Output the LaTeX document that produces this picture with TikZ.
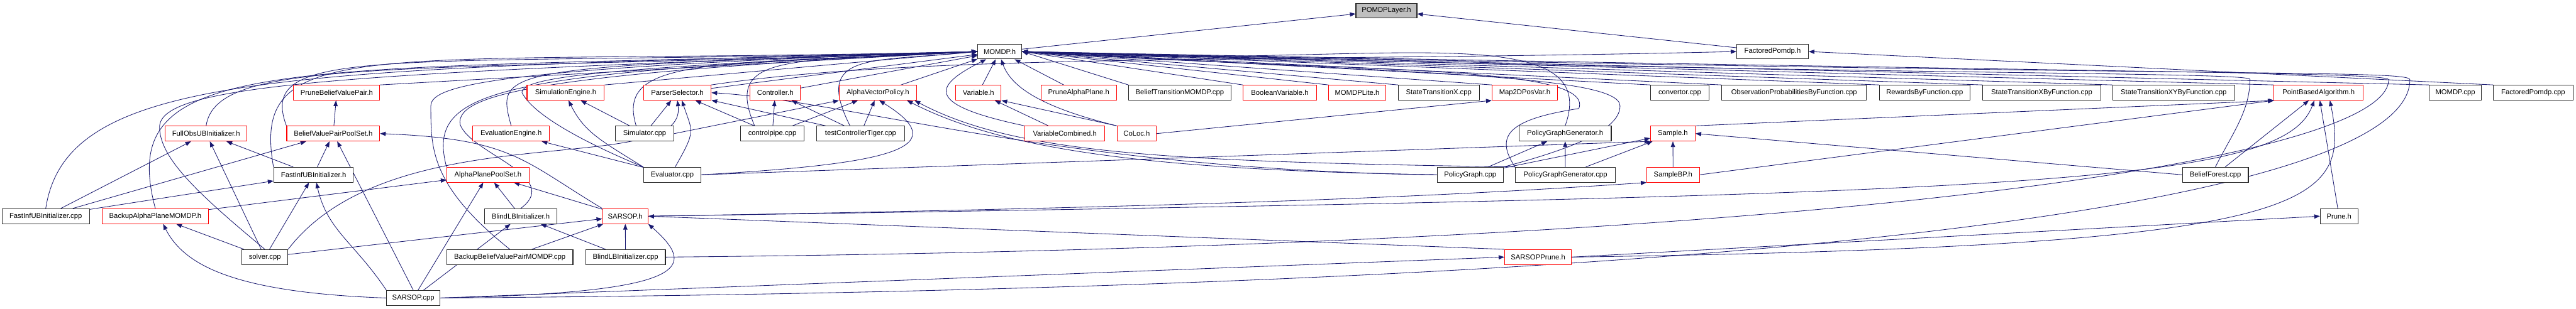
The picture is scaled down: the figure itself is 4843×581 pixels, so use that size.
\documentclass[tikz,border=0pt]{standalone}
\usepackage{fontspec}
\setmainfont{Liberation Sans}
\usetikzlibrary{arrows.meta,backgrounds}
\definecolor{edgeblue}{HTML}{191970}
\definecolor{rootgray}{HTML}{BFBFBF}
\begin{document}
\begin{tikzpicture}[
  x=0.75pt, y=-0.75pt,
  file/.style={draw=black!85, line width=1pt, fill=white, minimum height=21pt,
    inner sep=0pt, font=\fontsize{10}{12}\selectfont},
  redfile/.style={file, draw=red},
  rootfile/.style={file, fill=rootgray},
  dep/.style={draw=edgeblue, line width=0.75pt, -{Triangle[length=8pt,width=6pt]}}
]
\useasboundingbox (0,0) rectangle (4843,581);

\node[rootfile, minimum width=86pt] (pomdpl) at (2606.5,20) {POMDPLayer.h};

\node[file, minimum width=62pt] (momdph) at (1879.5,97) {MOMDP.h};
\node[file, minimum width=101pt] (factph) at (3332.5,97) {FactoredPomdp.h};

\node[redfile, minimum width=121.5pt] (pbvp) at (633,174.5) {PruneBeliefValuePair.h};
\node[redfile, minimum width=109pt] (simeng) at (1063.5,174.5) {SimulationEngine.h};
\node[redfile, minimum width=95pt] (parsel) at (1273.5,174.5) {ParserSelector.h};
\node[redfile, minimum width=71pt] (ctrl) at (1457.5,174.5) {Controller.h};
\node[redfile, minimum width=109pt] (avp) at (1650.5,174.5) {AlphaVectorPolicy.h};
\node[redfile, minimum width=64pt] (var) at (1839.5,174.5) {Variable.h};
\node[redfile, minimum width=106.5pt] (pap) at (2028,174.5) {PruneAlphaPlane.h};
\node[file, minimum width=144pt] (btm) at (2218,174.5) {BeliefTransitionMOMDP.cpp};
\node[redfile, minimum width=103.5pt] (boolvar) at (2406,174.5) {BooleanVariable.h};
\node[redfile, minimum width=80pt] (lite) at (2551.5,174.5) {MOMDPLite.h};
\node[file, minimum width=114pt] (stx) at (2705,174.5) {StateTransitionX.cpp};
\node[redfile, minimum width=92pt] (map2d) at (2866.5,174.5) {Map2DPosVar.h};
\node[file, minimum width=82.5pt] (conv) at (3158,174.5) {convertor.cpp};
\node[file, minimum width=204pt] (opbf) at (3373,174.5) {ObservationProbabilitiesByFunction.cpp};
\node[file, minimum width=128pt] (rbf) at (3618.5,174.5) {RewardsByFunction.cpp};
\node[file, minimum width=166pt] (stxbf) at (3838.5,174.5) {StateTransitionXByFunction.cpp};
\node[file, minimum width=172pt] (stxybf) at (4086.5,174.5) {StateTransitionXYByFunction.cpp};
\node[redfile, minimum width=126pt] (pba) at (4359,174.5) {PointBasedAlgorithm.h};
\node[file, minimum width=73.5pt] (momdpcpp) at (4616,174.5) {MOMDP.cpp};
\node[file, minimum width=112pt] (factcpp) at (4762.5,174.5) {FactoredPomdp.cpp};

\node[redfile, minimum width=115pt] (fullobs) at (387.5,251.5) {FullObsUBInitializer.h};
\node[redfile, minimum width=131pt] (bvpps) at (626.5,251.5) {BeliefValuePairPoolSet.h};
\node[redfile, minimum width=108pt] (evaleng) at (961,251.5) {EvaluationEngine.h};
\node[file, minimum width=82.5pt] (simcpp) at (1212,251.5) {Simulator.cpp};
\node[file, minimum width=90pt] (cpipe) at (1452,251.5) {controlpipe.cpp};
\node[file, minimum width=124.5pt] (tct) at (1618,251.5) {testControllerTiger.cpp};
\node[redfile, minimum width=112.5pt] (varcomb) at (2002,251.5) {VariableCombined.h};
\node[redfile, minimum width=55.5pt] (coloc) at (2137,251.5) {CoLoc.h};
\node[file, minimum width=130pt] (pggh) at (2942.5,251.5) {PolicyGraphGenerator.h};
\node[redfile, minimum width=63pt] (sample) at (3145,251.5) {Sample.h};

\node[file, minimum width=112pt] (fubih) at (589.5,329) {FastInfUBInitializer.h};
\node[redfile, minimum width=116pt] (apps) at (917.5,329) {AlphaPlanePoolSet.h};
\node[file, minimum width=81pt] (evalcpp) at (1264,329) {Evaluator.cpp};
\node[file, minimum width=93pt] (pgcpp) at (2764,329) {PolicyGraph.cpp};
\node[file, minimum width=141pt] (pggcpp) at (2943,329) {PolicyGraphGenerator.cpp};
\node[redfile, minimum width=74pt] (sampbp) at (3145.5,329) {SampleBP.h};
\node[file, minimum width=93pt] (bfcpp) at (4165,329) {BeliefForest.cpp};

\node[file, minimum width=123pt] (fubicpp) at (86,407) {FastInfUBInitializer.cpp};
\node[redfile, minimum width=150pt] (bapm) at (292,407) {BackupAlphaPlaneMOMDP.h};
\node[file, minimum width=102pt] (blbih) at (979,407) {BlindLBInitializer.h};
\node[redfile, minimum width=64pt] (sarsoph) at (1175.5,407) {SARSOP.h};
\node[file, minimum width=53pt] (pruneh) at (4397.5,407) {Prune.h};

\node[file, minimum width=64.5pt] (solver) at (498,484) {solver.cpp};
\node[file, minimum width=178pt] (bbvpm) at (958.5,484) {BackupBeliefValuePairMOMDP.cpp};
\node[file, minimum width=112.5pt] (blbicpp) at (1176,484) {BlindLBInitializer.cpp};
\node[redfile, minimum width=94pt] (sprune) at (2891.5,484) {SARSOPPrune.h};

\node[file, minimum width=75pt] (sarsopcpp) at (777,561) {SARSOP.cpp};

\begin{pgfonlayer}{background}
\fill[white] (0,0) rectangle (4843,581);

% top of the graph
\draw[dep] (momdph) -- (pomdpl);
\draw[dep] (factph) -- (pomdpl);
\draw[dep] (factcpp.north west) -- (factph.east);
\draw[dep] (parsel.north east) .. controls +(400,-60) and +(-833,20) .. (factph.west);

% straight into MOMDP.h
\draw[dep] (pbvp.north east) -- (momdph.west);
\draw[dep] (simeng.north east) -- (momdph.west);
\draw[dep] (parsel) -- (momdph);
\draw[dep] (ctrl) -- (momdph);
\draw[dep] (avp) -- (momdph);
\draw[dep] (var) -- (momdph);
\draw[dep] (pap) -- (momdph);
\draw[dep] (btm.north west) -- (momdph.east);
\draw[dep] (boolvar.north west) -- (momdph.east);
\draw[dep] (lite.north west) -- (momdph.east);
\draw[dep] (stx.north west) -- (momdph.east);
\draw[dep] (map2d.north west) -- (momdph.east);
\draw[dep] (conv.north west) -- (momdph.east);
\draw[dep] (opbf.north west) -- (momdph.east);
\draw[dep] (rbf.north west) -- (momdph.east);
\draw[dep] (stxbf.north west) -- (momdph.east);
\draw[dep] (stxybf.north west) -- (momdph.east);
\draw[dep] (pba.north west) -- (momdph.east);
\draw[dep] (momdpcpp.north west) -- (momdph.east);

% curves into MOMDP.h from the left
\draw[dep] (fubicpp.north) .. controls +(40,-260) and +(-1300,35) .. (momdph.west);
\draw[dep] (bapm.north) .. controls +(-80,-300) and +(-1300,40) .. (momdph.west);
\draw[dep] (fullobs.north) .. controls +(20,-130) and +(-1100,40) .. (momdph.west);
\draw[dep] (bvpps.north west) .. controls +(-59,-157) and +(-1100,30) .. (momdph.west);
\draw[dep] (fubih.north west) .. controls +(-45,-255) and +(-1138,28) .. (momdph.west);
\draw[dep] (solver.north) .. controls +(-120,-100) and +(0,60) .. ++(-198,-230)
  .. controls +(0,-80) and +(-1200,40) .. (momdph.west);
\draw[dep] (apps.north west) .. controls +(-40,-150) and +(-900,40) .. (momdph.west);
\draw[dep] (blbih.north) .. controls +(80,-60) and +(20,55) .. ++(-114,-158)
  .. controls +(-10,-60) and +(-800,40) .. (momdph.west);
\draw[dep] (evaleng.north) .. controls +(-30,-110) and +(-900,30) .. (momdph.west);
\draw[dep] (bbvpm.north) .. controls +(-150,-120) and +(0,80) .. ++(-148.5,-270)
  .. controls +(0,-40) and +(-900,30) .. (momdph.west);
\draw[dep] (evalcpp.north west) .. controls +(-120,-50) and +(20,40) .. ++(-228,-140)
  .. controls +(0,-30) and +(-700,30) .. (momdph.west);
\draw[dep] ([xshift=-12pt]simcpp.north) .. controls +(-40,-130) and +(-500,25) .. (momdph.west);
\draw[dep] ([xshift=-25pt]cpipe.north) .. controls +(-60,-140) and +(-350,20) .. (momdph.west);
\draw[dep] ([xshift=-15pt]tct.north) .. controls +(-70,-140) and +(-200,20) .. (momdph.west);
\draw[dep] (varcomb.north west) .. controls +(-190,-40) and +(-100,50) .. (momdph.-150);
\draw[dep] (coloc.north west) .. controls +(-150,-37) and +(18,49) .. (momdph.-80);

% curves into MOMDP.h from the right
\draw[dep] (pggh.north) .. controls +(80,-220) and +(600,40) .. (momdph.east);
\draw[dep] (pgcpp.north east) .. controls +(150,-40) and +(0,40) .. ++(219,-115)
  .. controls +(0,-60) and +(700,40) .. (momdph.east);
\draw[dep] (pggcpp.north west) .. controls +(-40,-60) and +(-130,20) .. ++(120,-110)
  .. controls +(31,-85) and +(600,40) .. (momdph.east);
\draw[dep] (bfcpp.north) .. controls +(30,-60) and +(0,60) .. ++(65,-165)
  .. controls +(0,-15) and +(1500,45) .. (momdph.east);
\draw[dep] (blbicpp.east) .. controls +(2200,-20) and +(0,150) .. ++(3239,-334)
  .. controls +(0,-15) and +(2000,40) .. (momdph.east);
\draw[dep] (sarsopcpp.east) .. controls +(2800,-20) and +(0,200) .. ++(3703,-411)
  .. controls +(0,-20) and +(2200,50) .. (momdph.east);

% left part
\draw[dep] (bvpps) -- (pbvp);
\draw[dep] (fubih) -- (fullobs);
\draw[dep] (fubih) -- (bvpps);
\draw[dep] (fubicpp) -- (fullobs);
\draw[dep] (fubicpp) -- (bvpps);
\draw[dep] (fubicpp) -- (fubih);
\draw[dep] (solver) -- (fullobs);
\draw[dep] (solver) -- (fubih);
\draw[dep] (solver) -- (bapm);
\draw[dep] (solver) -- (sarsoph);
\draw[dep] (solver.north east) .. controls +(200,-260) and +(20,150) .. (parsel.south);
\draw[dep] (bapm) -- (apps);
\draw[dep] (sarsopcpp) -- (blbih);
\draw[dep] (sarsopcpp) -- (apps);
\draw[dep] (sarsopcpp.north) -- (bvpps);
\draw[dep] (sarsopcpp.north west) .. controls +(-60,-90) and +(20,90) .. (fubih.-70);
\draw[dep] (sarsopcpp.west) .. controls +(-280,-10) and +(40,80) .. (bapm.-45);
\draw[dep] (sarsopcpp.east) .. controls +(480,-10) and +(90,80) .. (sarsoph.south east);
\draw[dep] (sarsopcpp.east) -- (sprune.west);
\draw[dep] (sarsoph) -- (apps);
\draw[dep] (sarsoph.north west) .. controls +(-150,-90) and +(250,10) .. (bvpps.east);
\draw[dep] (blbih) -- (apps);
\draw[dep] (blbicpp) -- (blbih);
\draw[dep] (blbicpp) -- (sarsoph);
\draw[dep] (bbvpm) -- (sarsoph);

% simulation and evaluation
\draw[dep] (simcpp) -- (simeng);
\draw[dep] (simcpp) -- (parsel);
\draw[dep] (simcpp.east) -- (avp.south west);
\draw[dep] (evalcpp) -- (evaleng);
\draw[dep] (evalcpp.north west) .. controls +(-80,-50) and +(30,60) .. (simeng.-70);
\draw[dep] (evalcpp.70) .. controls +(40,-70) and +(20,60) .. (parsel.-60);
\draw[dep] (evalcpp.east) .. controls +(350,-20) and +(147,91) .. (avp.-80);
\draw[dep] (evalcpp.east) -- (sample.south west);
\draw[dep] (cpipe) -- (parsel);
\draw[dep] (cpipe) -- (ctrl);
\draw[dep] (cpipe) -- (avp);
\draw[dep] (tct) -- (parsel);
\draw[dep] (tct) -- (ctrl);
\draw[dep] (tct) -- (avp);

% variables
\draw[dep] (varcomb) -- (var);
\draw[dep] (coloc.north west) -- (var.south east);
\draw[dep] (coloc.east) -- (map2d.south west);

% policy graph
\draw[dep] (pgcpp) -- (pggh);
\draw[dep] (pggcpp) -- (pggh);
\draw[dep] (pgcpp) -- (sample);
\draw[dep] (pggcpp) -- (sample);
\draw[dep] (pgcpp.west) .. controls +(-700,-9) and +(263,16) .. (parsel.east);
\draw[dep] (pgcpp.west) .. controls +(-552,-9) and +(178,91) .. (avp.-15);
\draw[dep] (pggcpp.north west) .. controls +(-649,-10) and +(190,101) .. (avp.-12);

% samples and point based algorithm
\draw[dep] (sampbp) -- (sample);
\draw[dep] (bfcpp.west) -- (sample.east);
\draw[dep] (sample.north east) -- (pba.190);
\draw[dep] (sampbp.east) -- (pba.south west);
\draw[dep] (bfcpp) -- (pba);
\draw[dep] (pruneh) -- (pba);
\draw[dep] (sarsoph.east) .. controls +(1200,-20) and +(-300,20) .. (sampbp.south west);
\draw[dep] (sarsoph.east) .. controls +(2600,-40) and +(-60,160) .. ([xshift=-6pt]pba.south);
\draw[dep] (sprune.north west) -- (sarsoph.east);
\draw[dep] (sprune.east) -- (pruneh.west);
\draw[dep] (sprune.east) .. controls +(1400,-20) and +(40,200) .. ([xshift=16pt]pba.south);
\end{pgfonlayer}
\end{tikzpicture}
\end{document}
